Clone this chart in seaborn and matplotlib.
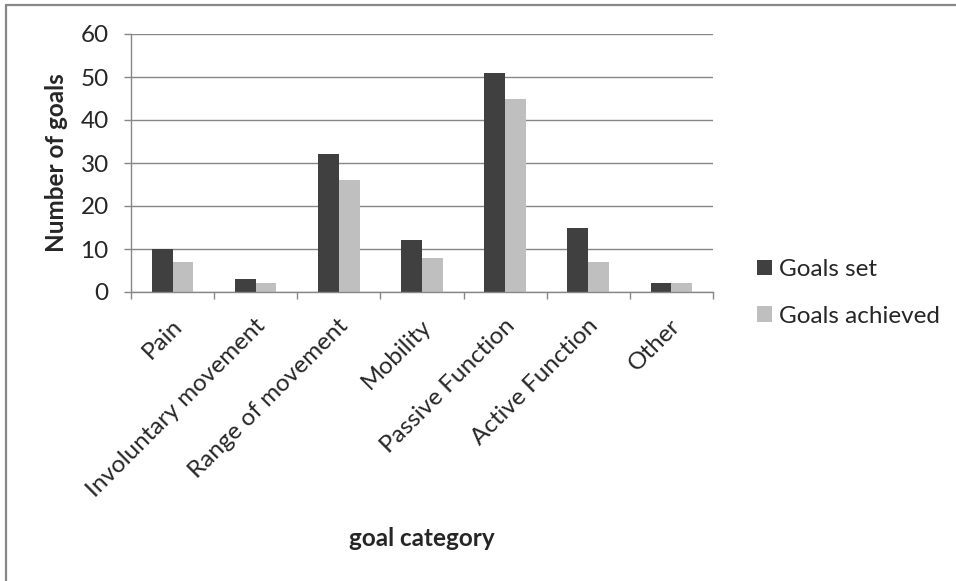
import matplotlib
matplotlib.use("Agg")
import matplotlib.pyplot as plt
import seaborn as sns
import pandas as pd
import numpy as np
from matplotlib.lines import Line2D
from matplotlib.transforms import ScaledTranslation

categories = ["Pain", "Involuntary movement", "Range of movement", "Mobility",
              "Passive Function", "Active Function", "Other"]
goals_set = [10, 3, 32, 12, 51, 15, 2]
goals_achieved = [7, 2, 26, 8, 45, 7, 2]
series_names = ["Goals set", "Goals achieved"]
colors = ["#404040", "#BFBFBF"]

df = pd.DataFrame({
    "category": categories * 2,
    "value": goals_set + goals_achieved,
    "series": [series_names[0]] * len(categories) + [series_names[1]] * len(categories),
})

sns.set_style("white")
plt.rcParams['font.family'] = ['Lato', 'DejaVu Sans']
FS = 17.5

fig = plt.figure(figsize=(9.56, 5.81), dpi=100)
ax = fig.add_axes([131 / 956, 1 - 292 / 581, 582 / 956, 258 / 581])

sns.barplot(data=df, x="category", y="value", hue="series", order=categories,
            hue_order=series_names, palette=colors, width=0.5, saturation=1,
            edgecolor="none", ax=ax)

ax.set_ylim(0, 60)
ax.set_yticks(range(0, 61, 10))
ax.set_xlim(-0.5, len(categories) - 0.5)
ax.yaxis.grid(True, color="#878787", linewidth=1)
ax.set_axisbelow(True)
for s in ["top", "right"]:
    ax.spines[s].set_visible(False)
for s in ["left", "bottom"]:
    ax.spines[s].set_color("#878787")
    ax.spines[s].set_linewidth(1)

ax.set_xticks(np.arange(len(categories)))
ax.set_xticklabels(categories, rotation=45, ha="right", va="center",
                   rotation_mode="anchor", fontsize=FS)
ax.tick_params(axis="x", length=0, pad=22)
offset = ScaledTranslation(0.06, 0, fig.dpi_scale_trans)
for lbl in ax.get_xticklabels():
    lbl.set_transform(lbl.get_transform() + offset)
ax.set_xticks(np.arange(-0.5, len(categories)), minor=True)
ax.tick_params(axis="x", which="minor", length=5, width=1, color="#878787",
               direction="out", bottom=True)
ax.tick_params(axis="y", length=5, width=1, color="#878787", direction="out", left=True,
               labelsize=FS, pad=11)

ax.set_ylabel("Number of goals", fontsize=FS, fontweight="bold")
ax.yaxis.set_label_coords(-0.108, 0.5)
ax.set_xlabel("goal category", fontsize=FS, fontweight="bold")
ax.xaxis.set_label_coords(0.5, -0.91)

handles, labels = ax.get_legend_handles_labels()
ax.legend(handles, labels, loc="center left", bbox_to_anchor=(757 / 956, 1 - 293 / 581),
          bbox_transform=fig.transFigure, frameon=False, fontsize=FS,
          handlelength=0.6, handleheight=0.6, labelspacing=1.05, handletextpad=0.3,
          borderpad=0, borderaxespad=0)

fig.lines.append(Line2D([6 / 956, 1], [1 - 5 / 581, 1 - 5 / 581], transform=fig.transFigure,
                        color="#878787", linewidth=1.6))
fig.lines.append(Line2D([6 / 956, 6 / 956], [0, 1 - 5 / 581], transform=fig.transFigure,
                        color="#878787", linewidth=1.6))

fig.savefig("out.png", dpi=100)
